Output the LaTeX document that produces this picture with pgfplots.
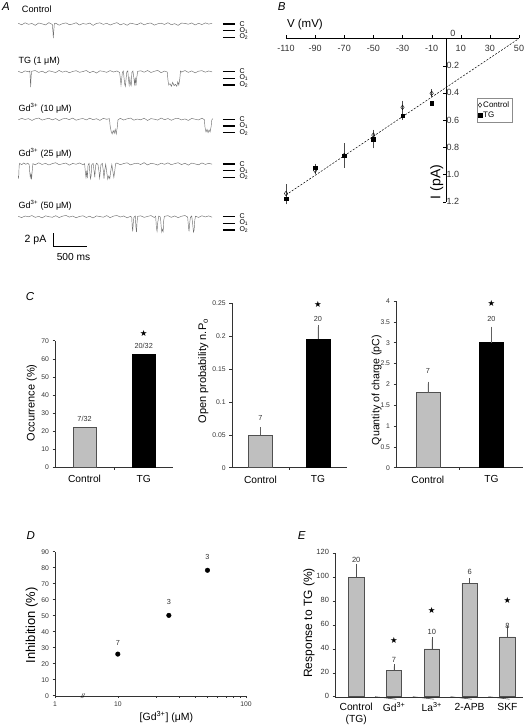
\documentclass[border=0pt]{standalone}
\usepackage{fontspec}
\setmainfont{Liberation Sans}
\newfontfamily\djv{DejaVu Sans}
\usepackage{pgfplots}
\pgfplotsset{compat=1.18}
\definecolor{trc}{HTML}{6E6E6E}
\definecolor{barg}{HTML}{BFBFBF}
\definecolor{bard}{HTML}{505050}
\definecolor{txt}{HTML}{333333}
\definecolor{errc}{HTML}{606060}
\newcommand{\st}{{\djv\fontsize{8.5}{9}\selectfont ★}}
\tikzset{ann/.style={font=\fontsize{7.3}{8}\selectfont, text=txt, inner sep=0pt}}
\pgfplotsset{
 every axis/.append style={scale only axis, enlargelimits=false, clip=false, anchor=south west, /pgf/number format/assume math mode=true},
 trace/.style={hide axis, width=195.2pt, height=21.33pt, xmin=0, xmax=2870, ymin=-2.6, ymax=0.6},
 smallticks/.style={axis lines*=left, axis line style={-, black!80},
   tick label style={font=\fontsize{6.8}{7.5}\selectfont, text=txt},
   tick style={black!80, line width=0.5pt}, major tick length=2.5pt, minor tick length=2pt, tick align=outside},
 cat/.style={xtick={0.5,1.5}, xticklabels={Control,TG}, xtick style={draw=none},
   xticklabel style={font=\fontsize{10.2}{11}\selectfont, text=black, yshift=-2pt}},
}
\newcommand{\levels}{%
 \draw[line width=1.1pt] (axis cs:3006,0) -- (axis cs:3187,0);
 \draw[line width=1.1pt] (axis cs:3006,-1) -- (axis cs:3187,-1);
 \draw[line width=1.1pt] (axis cs:3006,-2) -- (axis cs:3187,-2);
 \node[anchor=west, font=\fontsize{7}{7.5}\selectfont, inner sep=0pt] at (axis cs:3250,0.05) {C};
 \node[anchor=west, font=\fontsize{7}{7.5}\selectfont, inner sep=0pt] at (axis cs:3250,-0.95) {O\textsubscript{1}};
 \node[anchor=west, font=\fontsize{7}{7.5}\selectfont, inner sep=0pt] at (axis cs:3250,-1.95) {O\textsubscript{2}};
}
\begin{document}
\begin{tikzpicture}
\path[use as bounding box] (0,0) rectangle (529pt,728pt);
% panel letters
\node[font=\fontsize{11.5}{13}\selectfont\itshape] at (6pt,721pt) {A};
\node[font=\fontsize{11.5}{13}\selectfont\itshape] at (281.7pt,721.3pt) {B};
\node[font=\fontsize{11.5}{13}\selectfont\itshape] at (30pt,431.3pt) {C};
\node[font=\fontsize{11.5}{13}\selectfont\itshape] at (30.7pt,192.3pt) {D};
\node[font=\fontsize{11.5}{13}\selectfont\itshape] at (301.7pt,192.3pt) {E};
% ---------- Panel A: traces ----------
\node[anchor=west, font=\fontsize{9.2}{10}\selectfont, inner sep=0pt] at (21.7pt,718.7pt) {Control};
\node[anchor=west, font=\fontsize{9}{10}\selectfont, inner sep=0pt] at (18.5pt,667.3pt) {TG (1 μM)};
\node[anchor=west, font=\fontsize{9}{10}\selectfont, inner sep=0pt] at (18.5pt,619.7pt) {Gd\textsuperscript{3+} (10 μM)};
\node[anchor=west, font=\fontsize{9}{10}\selectfont, inner sep=0pt] at (18.5pt,574.7pt) {Gd\textsuperscript{3+} (25 μM)};
\node[anchor=west, font=\fontsize{9}{10}\selectfont, inner sep=0pt] at (18.5pt,523pt) {Gd\textsuperscript{3+} (50 μM)};
\begin{axis}[trace, at={(18.3pt,686.67pt)}]
\addplot[trc, line width=0.45pt] coordinates {(0,0.10)(50,-0.12)(100,0.18)(150,-0.05)(200,0.08)(250,-0.20)(300,0.15)(350,0.02)(400,-0.14)(450,0.20)(500,-0.08)(510,-1.2)(515,-2.1)(522,-1.0)(530,0.05)(550,0.12)(600,-0.18)(650,0.05)(700,0.16)(750,-0.10)(800,0.00)(850,0.19)(900,-0.15)(950,0.07)(1000,-0.03)(1050,0.14)(1100,-0.21)(1150,0.09)(1200,0.17)(1250,-0.06)(1300,0.11)(1350,-0.16)(1400,0.04)(1450,0.20)(1500,-0.12)(1550,0.06)(1600,-0.19)(1650,0.13)(1700,0.01)(1750,-0.09)(1800,0.18)(1850,-0.13)(1900,0.08)(1950,0.15)(2000,-0.17)(2050,0.03)(2100,0.12)(2150,-0.07)(2200,0.19)(2250,-0.11)(2300,0.05)(2350,-0.20)(2400,0.14)(2450,0.09)(2500,-0.04)(2550,0.16)(2600,-0.15)(2650,0.10)(2700,-0.08)(2750,0.17)(2800,-0.02)(2850,0.11)};
\levels
\end{axis}
\begin{axis}[trace, at={(18.3pt,638.97pt)}]
\addplot[trc, line width=0.45pt] coordinates {(0,0.05)(50,-0.15)(100,0.12)(150,-0.02)(170,0.1)(178,-1.5)(182,-2.3)(188,-0.8)(195,0.06)(250,0.17)(300,-0.11)(350,0.08)(400,-0.18)(450,0.14)(500,0.01)(550,-0.13)(600,0.19)(650,-0.07)(700,0.10)(750,-0.16)(800,0.04)(850,0.15)(900,-0.09)(950,0.02)(1000,0.18)(1050,-0.14)(1100,0.07)(1150,-0.20)(1200,0.13)(1250,0.05)(1300,-0.10)(1350,0.16)(1400,-0.05)(1450,0.11)(1490,-0.12)(1500,-1.0)(1510,-2.0)(1520,-1.1)(1530,-0.1)(1545,0.1)(1555,-1.0)(1565,-1.9)(1575,-2.2)(1585,-1.0)(1595,-0.05)(1610,0.12)(1620,-1.1)(1630,-2.0)(1640,-1.0)(1650,-1.9)(1660,-2.1)(1670,-0.1)(1685,0.1)(1700,-1.0)(1710,-1.9)(1720,-0.9)(1730,-2.1)(1740,-1.0)(1755,0.05)(1800,0.14)(1850,-0.08)(1900,0.18)(1950,-0.12)(2000,0.06)(2050,0.20)(2100,-0.15)(2150,0.09)(2190,-0.05)(2200,-1.2)(2210,-2.0)(2230,-1.8)(2250,-2.2)(2270,-1.6)(2290,-2.1)(2310,-1.9)(2330,-2.2)(2345,-1.5)(2360,-2.0)(2375,-1.0)(2385,0.1)(2400,-0.06)(2450,0.17)(2500,-0.10)(2550,0.12)(2600,-0.18)(2650,0.08)(2700,0.15)(2750,-0.07)(2800,0.11)(2850,-0.03)};
\levels
\end{axis}
\begin{axis}[trace, at={(18.3pt,591.37pt)}]
\addplot[trc, line width=0.45pt] coordinates {(0,-0.08)(50,0.14)(100,-0.03)(150,0.10)(200,-0.17)(250,0.07)(300,0.19)(350,-0.12)(400,0.03)(450,0.16)(500,-0.09)(550,0.11)(600,-0.19)(650,0.06)(700,0.13)(750,-0.05)(800,0.18)(850,-0.14)(900,0.02)(950,0.12)(1000,-0.10)(1050,0.17)(1100,-0.06)(1150,0.09)(1200,-0.16)(1250,0.14)(1300,0.00)(1340,0.1)(1350,-1.0)(1365,-1.8)(1380,-2.2)(1395,-1.7)(1410,-2.1)(1425,-1.5)(1440,-2.2)(1455,-1.2)(1465,-0.1)(1500,0.15)(1550,-0.11)(1600,0.07)(1650,0.18)(1700,-0.13)(1750,0.04)(1800,-0.08)(1850,0.16)(1900,-0.18)(1950,0.10)(2000,0.02)(2050,-0.12)(2100,0.19)(2150,-0.06)(2200,0.11)(2250,-0.15)(2300,0.08)(2350,0.14)(2400,-0.09)(2450,0.05)(2500,-0.17)(2550,0.13)(2600,0.01)(2650,-0.10)(2700,0.16)(2735,-0.05)(2745,-1.2)(2760,-1.9)(2775,-1.5)(2790,-2.0)(2805,-1.6)(2820,-1.9)(2835,-1.1)(2845,-0.1)(2860,0.1)};
\levels
\end{axis}
\begin{axis}[trace, at={(18.3pt,546.67pt)}]
\addplot[trc, line width=0.45pt] coordinates {(0,-1.8)(5,-2.2)(12,-0.3)(20,0.1)(50,-0.1)(80,0.15)(110,-0.05)(140,0.12)(160,-0.1)(168,-1.2)(176,-2.0)(186,-1.5)(195,-2.3)(205,-1.0)(215,0.05)(250,-0.12)(300,0.18)(350,-0.07)(400,0.10)(450,-0.15)(500,0.06)(550,0.19)(600,-0.10)(650,0.03)(700,0.14)(750,-0.18)(800,0.08)(850,-0.04)(900,0.16)(950,-0.09)(975,0.05)(985,-1.1)(995,-2.0)(1005,-1.2)(1015,-2.1)(1025,-0.2)(1040,0.1)(1050,-1.0)(1060,-2.2)(1070,-1.8)(1080,-0.1)(1100,0.08)(1115,-1.1)(1125,-2.0)(1135,-0.3)(1150,0.12)(1170,-0.05)(1185,-1.0)(1195,-2.1)(1205,-1.2)(1215,-0.1)(1235,0.1)(1250,-1.0)(1260,-2.2)(1270,-1.0)(1285,-0.05)(1300,-1.2)(1315,-2.3)(1330,-1.8)(1345,-2.2)(1360,-1.0)(1375,-0.1)(1390,-1.1)(1405,-2.0)(1420,-0.9)(1430,0.05)(1450,0.15)(1500,-0.10)(1550,0.07)(1600,0.18)(1650,-0.13)(1700,0.04)(1750,0.12)(1800,-0.08)(1850,0.20)(1900,-0.14)(1950,0.09)(2000,0.02)(2050,-0.16)(2100,0.13)(2150,-0.05)(2200,0.17)(2250,-0.11)(2300,0.06)(2350,0.19)(2400,-0.09)(2450,0.11)(2500,-0.17)(2550,0.14)(2600,0.01)(2650,-0.12)(2700,0.16)(2750,-0.06)(2800,0.10)(2850,-0.03)};
\levels
\end{axis}
\begin{axis}[trace, at={(18.3pt,493.97pt)}]
\addplot[trc, line width=0.45pt] coordinates {(0,0.06)(50,-0.14)(100,0.11)(150,-0.02)(200,0.17)(250,-0.10)(300,0.05)(350,-0.18)(400,0.13)(450,0.00)(500,-0.09)(550,0.15)(600,-0.13)(650,0.08)(700,0.19)(750,-0.06)(800,0.10)(850,-0.16)(900,0.04)(950,0.14)(1000,-0.11)(1050,0.07)(1100,-0.19)(1150,0.12)(1200,0.02)(1250,-0.08)(1300,0.16)(1350,-0.14)(1400,0.09)(1450,0.18)(1500,-0.05)(1550,0.11)(1600,-0.17)(1650,0.06)(1668,-0.1)(1675,-1.5)(1682,-2.2)(1690,-1.0)(1700,-0.1)(1720,0.1)(1730,-1.6)(1738,-2.3)(1746,-0.8)(1755,0.05)(1800,0.13)(1850,-0.10)(1900,0.04)(1950,0.17)(2000,-0.12)(2020,0.08)(2030,-1.6)(2040,-2.2)(2050,-0.9)(2065,0.1)(2090,-0.05)(2100,-1.4)(2110,-2.3)(2120,-1.9)(2130,-2.2)(2138,-0.6)(2148,0.06)(2200,0.15)(2250,-0.09)(2300,0.11)(2350,-0.15)(2400,0.07)(2450,0.18)(2490,-0.06)(2500,-1.3)(2510,-2.2)(2520,-1.0)(2530,-0.1)(2550,0.1)(2565,-1.2)(2575,-2.3)(2585,-2.0)(2595,-0.5)(2605,0.08)(2650,-0.11)(2700,0.14)(2750,-0.04)(2800,0.12)(2850,-0.08)};
\levels
\draw[line width=1.3pt] (axis cs:515,-2.5) -- (axis cs:515,-4.5) -- (axis cs:1015,-4.5);
\end{axis}
\node[font=\fontsize{10.5}{11}\selectfont] at (35.5pt,488pt) {2 pA};
\node[font=\fontsize{10.2}{11}\selectfont] at (73.5pt,471.3pt) {500 ms};
% ---------- Panel B ----------
\begin{axis}[at={(286pt,526.3pt)}, width=233pt, height=163.2pt,
 xmin=-110, xmax=50, ymin=0, ymax=1.2, y dir=reverse,
 axis lines=middle, axis line style={-, black},
 xtick={-110,-90,-70,-50,-30,-10,10,30,50},
 ytick={0.2,0.4,0.6,0.8,1.0,1.2}, yticklabels={0.2,0.4,0.6,0.8,1.0,1.2},
 xticklabel style={anchor=north, font=\fontsize{9}{10}\selectfont, text=txt},
 yticklabel style={anchor=west, font=\fontsize{9}{10}\selectfont, text=txt},
 tick style={black}, major tick length=3pt, tick align=outside,
 legend style={at={(0.818,0.634)}, anchor=north west, draw=black!45, font=\fontsize{8}{9}\selectfont, inner sep=1.5pt, row sep=0pt, nodes={inner sep=1.5pt}},
 legend cell align=left]
\addplot[black, dash pattern=on 2pt off 1.5pt, line width=0.5pt, forget plot] coordinates {(-110,1.15) (50,0)};
\addplot[only marks, mark=diamond, mark size=2.3pt, mark options={fill=white, draw=black, line width=0.4pt},
  error bars/.cd, y dir=both, y explicit, error bar style={black!70, line width=0.4pt}, error mark options={black!70, mark size=1.2pt}]
  coordinates {(-110,1.14) +- (0,0.06) (-90,0.97) +- (0,0.02) (-70,0.86) +- (0,0.08) (-50,0.71) +- (0,0.03) (-30,0.506) +- (0,0.04) (-10,0.403) +- (0,0.02)};
\addlegendentry{Control}
\addplot[only marks, mark=square*, mark size=1.7pt, mark options={fill=black, draw=black},
  error bars/.cd, y dir=both, y explicit, error bar style={black!70, line width=0.4pt}, error mark options={black!70, mark size=1.2pt}]
  coordinates {(-110,1.18) +- (0,0.03) (-90,0.95) +- (0,0.02) (-70,0.86) +- (0,0.06) (-50,0.74) +- (0,0.06) (-30,0.567) +- (0,0.02) (-10,0.477) +- (0,0.01)};
\addlegendentry{TG}
\node[anchor=south west, font=\fontsize{9}{10}\selectfont, text=txt, inner sep=0pt] at (axis cs:0,0) [xshift=4pt, yshift=2pt] {0};
\node[font=\fontsize{11.5}{13}\selectfont] at (axis cs:-97,-0.1) {V (mV)};
\node[font=\fontsize{14}{16}\selectfont, rotate=90] at (axis cs:-6.5,1.055) {I (pA)};
\end{axis}
% ---------- Panel C1 ----------
\begin{axis}[smallticks, cat, at={(55pt,260.7pt)}, width=118.3pt, height=126.6pt,
 xmin=0, xmax=2, ymin=0, ymax=70, ytick={0,10,20,30,40,50,60,70},
 ylabel={Occurrence (\%)}, ylabel style={at={(axis description cs:-0.197,0.508)}, anchor=center, font=\fontsize{11}{12}\selectfont}]
\addplot[ybar, bar width=23.5pt, bar shift=0pt, fill=barg, draw=bard, line width=0.6pt] coordinates {(0.5,21.9)};
\addplot[ybar, bar width=23.5pt, bar shift=0pt, fill=black, draw=black] coordinates {(1.5,62.5)};
\draw[black!80, line width=0.5pt] (axis cs:1,0) -- ++(0,-2.5pt);
\node[ann] at (axis cs:0.5,26.7) {7/32};
\node[ann] at (axis cs:1.5,67.2) {20/32};
\node[inner sep=0pt] at (axis cs:1.5,74.1) {\st};
\end{axis}
% ---------- Panel C2 ----------
\begin{axis}[smallticks, cat, at={(231.7pt,260.3pt)}, width=115pt, height=164.4pt,
 xmin=0, xmax=2, ymin=0, ymax=0.25, ytick={0,0.05,0.1,0.15,0.2,0.25}, yticklabels={0,0.05,0.1,0.15,0.2,0.25},
 ylabel={Open probability n.P\textsubscript{o}}, ylabel style={at={(axis description cs:-0.247,0.588)}, anchor=center, font=\fontsize{11}{12}\selectfont}]
\addplot[ybar, bar width=24pt, bar shift=0pt, fill=barg, draw=bard, line width=0.6pt,
  error bars/.cd, y dir=plus, y explicit, error bar style={errc, line width=0.6pt}, error mark options={errc, mark size=2pt, line width=0.6pt}]
  coordinates {(0.5,0.05) +- (0,0.0085)};
\addplot[ybar, bar width=24pt, bar shift=0pt, fill=black, draw=black,
  error bars/.cd, y dir=plus, y explicit, error bar style={errc, line width=0.6pt}, error mark options={errc, mark size=2pt, line width=0.6pt}]
  coordinates {(1.5,0.195) +- (0,0.019)};
\draw[black!80, line width=0.5pt] (axis cs:1,0) -- ++(0,-2.5pt);
\node[ann] at (axis cs:0.5,0.0751) {7};
\node[ann] at (axis cs:1.5,0.2257) {20};
\node[inner sep=0pt] at (axis cs:1.5,0.249) {\st};
\end{axis}
% ---------- Panel C3 ----------
\begin{axis}[smallticks, cat, at={(396pt,260.3pt)}, width=127.3pt, height=166.7pt,
 xmin=0, xmax=2, ymin=0, ymax=4, ytick={0,0.5,1,1.5,2,2.5,3,3.5,4}, yticklabels={0,0.5,1,1.5,2,2.5,3,3.5,4},
 ylabel={Quantity of charge (pC)}, ylabel style={at={(axis description cs:-0.152,0.466)}, anchor=center, font=\fontsize{10.6}{12}\selectfont}]
\addplot[ybar, bar width=24pt, bar shift=0pt, fill=barg, draw=bard, line width=0.6pt,
  error bars/.cd, y dir=plus, y explicit, error bar style={errc, line width=0.6pt}, error mark options={errc, mark size=2pt, line width=0.6pt}]
  coordinates {(0.5,1.8) +- (0,0.22)};
\addplot[ybar, bar width=24pt, bar shift=0pt, fill=black, draw=black,
  error bars/.cd, y dir=plus, y explicit, error bar style={errc, line width=0.6pt}, error mark options={errc, mark size=2pt, line width=0.6pt}]
  coordinates {(1.5,3.0) +- (0,0.34)};
\draw[black!80, line width=0.5pt] (axis cs:1,0) -- ++(0,-2.5pt);
\node[ann] at (axis cs:0.5,2.32) {7};
\node[ann] at (axis cs:1.5,3.56) {20};
\node[inner sep=0pt] at (axis cs:1.5,3.93) {\st};
\end{axis}
% ---------- Panel D ----------
\begin{axis}[smallticks, xmode=log, at={(55pt,32.3pt)}, width=191.1pt, height=144pt,
 xmin=3.24, xmax=100, ymin=0, ymax=90, ytick={0,10,20,30,40,50,60,70,80,90},
 xtick={3.24,10,100}, xticklabels={1,10,100}, minor xtick={20,30,40,50,60,70,80,90},
 ylabel={Inhibition (\%)}, ylabel style={at={(axis description cs:-0.1216,0.49)}, anchor=center, font=\fontsize{13}{14}\selectfont},
 xlabel={[Gd\textsuperscript{3+}] (μM)}, xlabel style={at={(axis description cs:0.583,-0.146)}, anchor=center, font=\fontsize{10.5}{12}\selectfont}]
\addplot[only marks, mark=*, mark size=2.3pt, black] coordinates {(10,26) (25,50.2) (50,78.4)};
\node[ann] at (axis cs:10,33.1) {7};
\node[ann] at (axis cs:25,58.6) {3};
\node[ann] at (axis cs:50,86.9) {3};
\node[font=\fontsize{6.5}{7}\selectfont\itshape, inner sep=0pt] at (axis cs:5.34,0) {//};
\end{axis}
% ---------- Panel E ----------
\begin{axis}[smallticks, at={(335pt,31.3pt)}, width=188.3pt, height=143.4pt,
 xmin=-0.56, xmax=4.42, ymin=0, ymax=120, ytick={0,20,40,60,80,100,120},
 tick label style={font=\fontsize{7.5}{8}\selectfont},
 xtick={0,1,2,3,4}, xticklabels={{Control\\(TG)}, Gd\textsuperscript{3+}, La\textsuperscript{3+}, 2-APB, SKF},
 xtick style={draw=none}, typeset ticklabels with strut,
 xticklabel style={align=center, font=\fontsize{10.3}{11.5}\selectfont, text=black},
 ylabel={Response to TG (\%)}, ylabel style={at={(axis description cs:-0.138,0.514)}, anchor=center, font=\fontsize{12}{14}\selectfont}]
\addplot[ybar, bar width=15.5pt, bar shift=0pt, fill=barg, draw=bard, line width=0.6pt,
  error bars/.cd, y dir=plus, y explicit, error bar style={bard, line width=0.6pt}, error mark options={bard, mark size=2pt, line width=0.6pt}]
  coordinates {(0,100) +- (0,9.5) (1,22) +- (0,3.3) (2,40) +- (0,8) (3,95) +- (0,2.5) (4,50) +- (0,7.2)};
\pgfplotsinvokeforeach{0.5,1.5,2.5,3.5}{\draw[black!80, line width=0.5pt] (axis cs:#1,0) -- ++(0,-2.5pt);}
\node[ann, font=\fontsize{7.5}{8}\selectfont] at (axis cs:0,114.4) {20};
\node[ann, font=\fontsize{7.5}{8}\selectfont] at (axis cs:1,30.7) {7};
\node[inner sep=0pt] at (axis cs:1,47.4) {\st};
\node[ann, font=\fontsize{7.5}{8}\selectfont] at (axis cs:2,54.3) {10};
\node[inner sep=0pt] at (axis cs:2,72.2) {\st};
\node[ann, font=\fontsize{7.5}{8}\selectfont] at (axis cs:3,104.1) {6};
\node[ann, font=\fontsize{7.5}{8}\selectfont] at (axis cs:4,59.1) {8};
\node[inner sep=0pt] at (axis cs:4,80.2) {\st};
\end{axis}
\end{tikzpicture}
\end{document}
